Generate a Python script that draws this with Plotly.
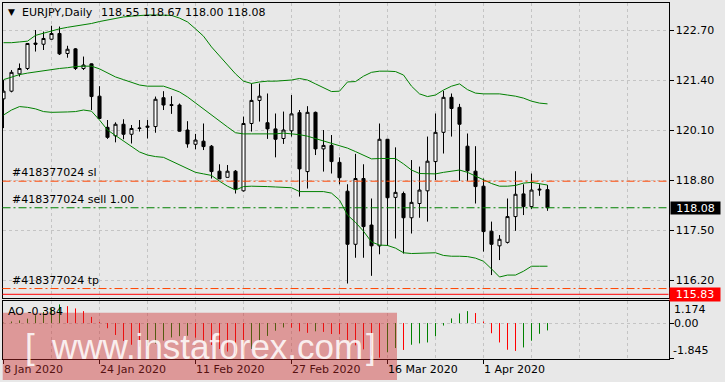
import plotly.graph_objects as go

# ---------------- data ----------------
symbol = "EURJPY,Daily"
order_id = "#418377024"
date_tick_idx = [0, 12, 24, 36, 48, 60]
date_tick_labels = ["8 Jan 2020", "24 Jan 2020", "11 Feb 2020", "27 Feb 2020", "16 Mar 2020", "1 Apr 2020"]
price_ticks = [116.20, 117.50, 118.80, 120.10, 121.40, 122.70]

opens = [120.91, 121.11, 121.56, 121.70, 122.36, 122.33, 122.46, 122.61, 122.09, 122.21,
         121.70, 121.82, 120.98, 120.17, 119.95, 120.25, 119.99, 120.14, 120.17, 120.19,
         120.94, 120.76, 120.75, 120.10, 119.73, 119.81, 119.68, 119.03, 118.87, 119.03,
         118.52, 120.27, 120.87, 120.29, 120.13, 119.88, 120.08, 120.55, 119.02, 120.56,
         119.61, 119.70, 119.26, 118.51, 117.13, 118.84, 117.63, 117.09, 119.86, 118.35,
         118.45, 117.82, 118.19, 118.52, 119.28, 120.04, 120.95, 120.69, 119.68, 119.03,
         118.64, 117.47, 117.09, 117.18, 117.85, 118.44, 118.11, 118.54, 118.55]
highs = [121.40, 121.66, 121.83, 122.36, 122.70, 122.66, 122.81, 122.79, 122.29, 122.23,
         122.01, 121.83, 121.24, 120.36, 120.30, 120.38, 120.23, 120.36, 120.36, 120.97,
         121.11, 120.98, 120.79, 120.33, 120.00, 120.27, 119.71, 119.21, 119.19, 119.06,
         120.45, 121.31, 121.31, 121.05, 120.53, 120.58, 121.01, 120.62, 120.72, 120.58,
         120.10, 119.97, 119.39, 118.69, 119.48, 119.21, 118.32, 120.27, 119.87, 119.65,
         118.50, 119.32, 119.15, 119.93, 120.53, 121.12, 121.05, 120.78, 120.01, 119.68,
         118.84, 117.72, 117.37, 118.32, 119.03, 118.69, 118.97, 118.69, 118.67]
lows = [120.15, 121.08, 121.49, 121.66, 122.14, 122.18, 122.45, 122.05, 121.98, 121.66,
        121.66, 120.62, 120.39, 119.87, 119.78, 119.86, 119.75, 120.06, 119.88, 120.03,
        120.62, 120.52, 120.06, 119.64, 119.60, 119.58, 118.84, 118.83, 118.87, 118.45,
        118.50, 120.06, 120.32, 119.87, 119.39, 119.74, 119.93, 118.37, 118.58, 119.45,
        119.02, 118.97, 118.69, 116.11, 116.78, 116.78, 116.31, 116.87, 117.09, 117.28,
        116.89, 117.41, 117.82, 117.72, 118.80, 119.49, 119.93, 118.78, 118.78, 118.19,
        116.94, 116.33, 116.72, 117.15, 117.48, 117.89, 118.05, 118.39, 118.00]
closes = [121.11, 121.60, 121.70, 122.35, 122.33, 122.48, 122.61, 122.08, 122.20, 121.70,
          121.79, 120.97, 120.40, 119.91, 120.25, 119.99, 120.14, 120.15, 120.20, 120.90,
          120.75, 120.74, 120.07, 119.74, 119.84, 119.67, 119.02, 118.83, 119.03, 118.56,
          120.27, 120.87, 120.98, 120.13, 119.86, 120.10, 120.52, 119.09, 120.56, 119.61,
          119.70, 119.28, 118.86, 117.13, 118.84, 117.59, 117.09, 119.86, 118.34, 118.48,
          117.82, 118.22, 118.54, 119.29, 120.04, 120.95, 120.66, 120.25, 119.04, 118.63,
          117.46, 117.13, 117.26, 117.85, 118.43, 118.11, 118.54, 118.56, 118.08]

bb_upper = [122.37, 122.37, 122.39, 122.41, 122.56, 122.62, 122.67, 122.73, 122.77, 122.80,
            122.83, 122.87, 122.92, 122.96, 123.00, 123.04, 123.06, 123.08, 123.09, 123.09,
            123.09, 123.08, 123.01, 122.91, 122.73, 122.54, 122.26, 122.02, 121.79, 121.56,
            121.37, 121.31, 121.35, 121.37, 121.37, 121.39, 121.40, 121.44, 121.40, 121.30,
            121.20, 121.10, 121.11, 121.35, 121.36, 121.50, 121.60, 121.63, 121.63, 121.62,
            121.53, 121.24, 121.04, 120.97, 121.01, 121.14, 121.24, 121.30, 121.15, 121.06,
            121.04, 121.04, 121.04, 121.01, 120.98, 120.93, 120.85, 120.80, 120.78]
bb_middle = [121.41, 121.48, 121.54, 121.58, 121.61, 121.65, 121.67, 121.70, 121.72, 121.75,
             121.76, 121.76, 121.69, 121.58, 121.48, 121.41, 121.33, 121.27, 121.24, 121.24,
             121.24, 121.17, 121.09, 120.96, 120.80, 120.65, 120.49, 120.33, 120.18, 120.03,
             120.00, 120.00, 120.00, 120.00, 120.00, 120.02, 120.00, 119.98, 119.94, 119.88,
             119.81, 119.76, 119.71, 119.63, 119.54, 119.45, 119.35, 119.36, 119.36, 119.36,
             119.22, 119.06, 118.97, 118.96, 118.96, 119.00, 119.03, 119.06, 119.00, 118.90,
             118.80, 118.71, 118.64, 118.64, 118.66, 118.72, 118.74, 118.70, 118.67]
bb_lower = [120.49, 120.62, 120.71, 120.69, 120.65, 120.58, 120.56, 120.56, 120.57, 120.58,
            120.62, 120.59, 120.36, 120.10, 119.96, 119.81, 119.67, 119.53, 119.45, 119.41,
            119.39, 119.29, 119.20, 119.10, 119.00, 118.96, 118.92, 118.77, 118.64, 118.54,
            118.63, 118.64, 118.64, 118.63, 118.62, 118.61, 118.60, 118.50, 118.50, 118.50,
            118.50, 118.46, 118.28, 117.89, 117.70, 117.47, 117.19, 117.11, 117.10, 117.03,
            116.91, 116.89, 116.90, 116.91, 116.91, 116.84, 116.82, 116.82, 116.81, 116.77,
            116.69, 116.49, 116.28, 116.33, 116.33, 116.43, 116.56, 116.56, 116.56]

ao = [0.02, 0.08, 0.14, 0.23, 0.41, 0.58, 0.76, 0.97, 0.88, 0.76,
      0.62, 0.32, 0.05, -0.27, -0.62, -0.93, -1.13, -1.23, -1.19, -1.07,
      -0.91, -0.75, -0.68, -0.66, -0.76, -0.91, -1.14, -1.35, -1.48, -1.61,
      -1.66, -1.35, -0.98, -0.67, -0.40, -0.23, -0.24, -0.43, -0.51, -0.43,
      -0.46, -0.57, -0.58, -0.89, -1.16, -1.37, -1.70, -1.80, -1.52, -1.30,
      -1.40, -1.13, -1.06, -1.01, -0.69, -0.13, 0.24, 0.50, 0.62, 0.52,
      0.08, -0.53, -1.01, -1.39, -1.45, -1.27, -0.92, -0.56, -0.384]
ao_max, ao_min = 1.174, -1.845

sl_price = 118.77
sell_price = 118.08
sell_lots = 1.00
tp_price = 115.98
hline_price = 115.83

# ---------------- layout geometry ----------------
W, H = 725, 382
def px(v):
    return v / W
def py(v):
    return 1 - v / H

X_L, X_R = 2.5, 668.5
MAIN_T, MAIN_B = 2.5, 297.5
AO_T, AO_B = 300.5, 358.5
BAR_PX = 8.0
FIRST_BAR_PX = 3.5
xr0 = -(FIRST_BAR_PX - X_L) / BAR_PX
xr1 = xr0 + (X_R - X_L) / BAR_PX
y_top, y_bot = 123.415, 115.747

BG = "#E8E8E8"
GRID = "#C4C4C4"
GDASH = "3px,3px"
FONT = "DejaVu Sans"
GREEN = "#008000"
RED = "#FF0000"
ORANGE = "#FF4500"

n = len(opens)
xs = list(range(n))

fig = go.Figure()
fig.add_trace(go.Candlestick(
    x=xs, open=opens, high=highs, low=lows, close=closes,
    increasing=dict(line=dict(color="black", width=1), fillcolor="white"),
    decreasing=dict(line=dict(color="black", width=1), fillcolor="black"),
    whiskerwidth=0, xaxis="x", yaxis="y", hoverinfo="skip", showlegend=False))
for band in (bb_upper, bb_middle, bb_lower):
    fig.add_trace(go.Scatter(x=xs, y=band, mode="lines",
                             line=dict(color=GREEN, width=1),
                             xaxis="x", yaxis="y", hoverinfo="skip", showlegend=False))

# AO histogram drawn as thin 1px vertical lines from zero, green when rising, red when falling
for want_up, col in ((True, GREEN), (False, RED)):
    sx, sy = [], []
    for i in range(n):
        up = i == 0 or ao[i] >= ao[i - 1]
        if up == want_up:
            sx += [i, i, None]
            sy += [0.0, ao[i], None]
    fig.add_trace(go.Scatter(x=sx, y=sy, mode="lines", line=dict(color=col, width=1),
                             xaxis="x2", yaxis="y2", hoverinfo="skip", showlegend=False,
                             connectgaps=False))

grid_idx = list(range(0, 84, 6))
minor_idx = [v for v in grid_idx if v not in date_tick_idx]

axis_common = dict(showline=True, mirror=True, linecolor="black", linewidth=1,
                   zeroline=False, fixedrange=True)

fig.update_layout(
    width=W, height=H, autosize=False,
    margin=dict(l=0, r=0, t=0, b=0),
    paper_bgcolor=BG, plot_bgcolor=BG,
    showlegend=False, hovermode=False,
    boxgap=0.45,
    font=dict(family=FONT, size=11, color="black"),
    xaxis=dict(domain=[px(X_L), px(X_R)], range=[xr0, xr1], anchor="y",
               tickmode="array", tickvals=grid_idx, showticklabels=False, ticks="",
               showgrid=True, gridcolor=GRID, griddash=GDASH, gridwidth=1,
               rangeslider=dict(visible=False), **axis_common),
    yaxis=dict(domain=[py(MAIN_B), py(MAIN_T)], range=[y_bot, y_top], anchor="x",
               side="right", tickmode="array", tickvals=price_ticks,
               ticktext=[f"{v:.2f}" for v in price_ticks],
               ticks="outside", ticklen=4, tickcolor="black",
               tickfont=dict(family=FONT, size=11, color="black"),
               showgrid=True, gridcolor=GRID, griddash=GDASH, gridwidth=1, **axis_common),
    xaxis2=dict(domain=[px(X_L), px(X_R)], range=[xr0, xr1], anchor="y2",
                tickmode="array", tickvals=date_tick_idx, showticklabels=False,
                ticks="outside", ticklen=4, tickcolor="black",
                showgrid=True, gridcolor=GRID, griddash=GDASH, gridwidth=1,
                minor=dict(tickmode="array", tickvals=minor_idx, ticks="",
                           showgrid=True, gridcolor=GRID, griddash=GDASH, gridwidth=1),
                **axis_common),
    yaxis2=dict(domain=[py(AO_B), py(AO_T)], range=[ao_min, ao_max], anchor="x2",
                side="right", tickmode="array", tickvals=[ao_max, 0.0, ao_min],
                showticklabels=False, ticks="outside", ticklen=4, tickcolor="black",
                showgrid=True, gridcolor=GRID, griddash=GDASH, gridwidth=1, **axis_common),
)

# ---------------- order / level lines ----------------
DASHDOT = "8px,3px,2px,3px"
def hline(yv, color, dash):
    fig.add_shape(type="line", xref="paper", yref="y", x0=px(X_L), x1=px(X_R),
                  y0=yv, y1=yv, line=dict(color=color, width=1, dash=dash))

hline(sl_price, ORANGE, DASHDOT)
hline(sell_price, GREEN, DASHDOT)
hline(tp_price, ORANGE, DASHDOT)
hline(hline_price, RED, "solid")

# ---------------- texts ----------------
def note(text, x, y, xref="paper", yref="paper", xanchor="left", yanchor="middle",
         color="black", size=11, family=FONT, **kw):
    fig.add_annotation(text=text, x=x, y=y, xref=xref, yref=yref, xanchor=xanchor,
                       yanchor=yanchor, showarrow=False, borderpad=0,
                       font=dict(family=family, size=size, color=color), **kw)

note("▼", px(7), py(12.5), size=9)
note(symbol, px(20.5), py(12.5))
note(f"{opens[-1]:.2f} {highs[-1]:.2f} {lows[-1]:.2f} {closes[-1]:.2f}", px(99.5), py(12.5))

note(f"{order_id} sl", px(11), sl_price, yref="y", yanchor="bottom", yshift=1)
note(f"{order_id} sell {sell_lots:.2f}", px(11), sell_price, yref="y", yanchor="bottom", yshift=1)
note(f"{order_id} tp", px(11), tp_price, yref="y", yanchor="bottom", yshift=1)

# price tags on the axis
fig.add_annotation(text=f"{closes[-1]:.2f}", x=px(670), y=closes[-1], xref="paper", yref="y",
                   xanchor="left", yanchor="middle", showarrow=False, bgcolor="black",
                   width=49, height=12, borderpad=0, align="center",
                   font=dict(family=FONT, size=11, color="white"))
fig.add_annotation(text=f"{hline_price:.2f}", x=px(669), y=hline_price, xref="paper", yref="y",
                   xanchor="left", yanchor="middle", showarrow=False, bgcolor=RED,
                   width=50, height=13, borderpad=0, align="center",
                   font=dict(family=FONT, size=11, color="white"))

# AO labels
note(f"AO {ao[-1]:.3f}", px(7), py(311.7))
note(f"{ao_max:.3f}", px(672.5), ao_max, yref="y2", yshift=-9)
note("0.00", px(672.5), 0.0, yref="y2")
note(f"{ao_min:.3f}", px(671.5), ao_min, yref="y2", yshift=8)

# watermark band
WM_L, WM_R, WM_T, WM_B = 2.7, 397, 312.7, 380
fig.add_shape(type="rect", xref="paper", yref="paper", x0=px(WM_L), x1=px(WM_R),
              y0=py(WM_B), y1=py(WM_T), line=dict(width=0),
              fillcolor="rgba(205,40,40,0.42)", layer="above")

# date labels (left aligned at their ticks); those under the band get its tint
for idx, lab in zip(date_tick_idx, date_tick_labels):
    xpix = FIRST_BAR_PX + idx * BAR_PX
    col = "#561111" if xpix < WM_R - 15 else "black"
    note(lab, idx, py(369.3), xref="x2", xshift=-0.6, color=col)

WM_FONT = "Liberation Sans"
note("[", px(30), py(346), xanchor="center", color="rgba(255,255,255,0.85)", size=35, family=WM_FONT)
note("www.instaforex.com", px(206.5), py(346), xanchor="center",
     color="rgba(255,255,255,0.85)", size=35, family=WM_FONT)
note("]", px(371), py(346), xanchor="center", color="rgba(255,255,255,0.85)", size=35, family=WM_FONT)

fig.write_html("out.html")
